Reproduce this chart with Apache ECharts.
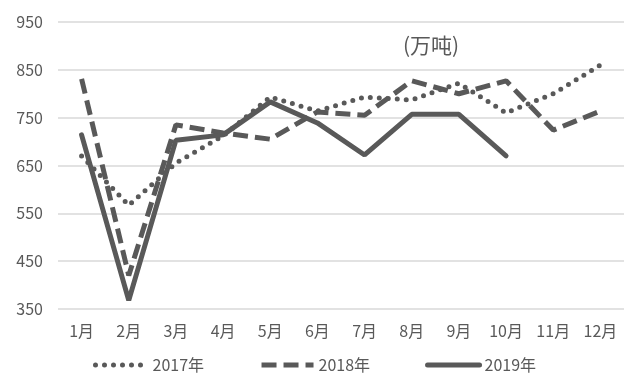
<!DOCTYPE html>
<html><head><meta charset="utf-8">
<script src="https://cdn.jsdelivr.net/npm/echarts@6/dist/echarts.min.js"></script>
<style>html,body{margin:0;padding:0;background:#fff}#c{width:637px;height:386px}</style>
</head><body><div id="c"></div>
<script>
var months = ['1月','2月','3月','4月','5月','6月','7月','8月','9月','10月','11月','12月'];
var s2017 = [670, 567, 655, 712, 793, 764, 793, 787, 822, 760, 800, 860];
var s2018 = [831, 420, 735, 718, 705, 762, 755, 827, 800, 827, 724, 764];
var s2019 = [714, 368, 703, 714, 783, 739, 672, 757, 757, 670];
var yTicks = {min: 350, max: 950, interval: 100};
var unitLabel = '(万吨)';
var font = '"Noto Sans CJK SC", "Liberation Sans", sans-serif';
var col = '#595959';
var chart = echarts.init(document.getElementById('c'));
chart.setOption({
  animation: false,
  backgroundColor: '#fff',
  title: {text: unitLabel, left: 398, top: 30, textStyle: {fontFamily: font, fontSize: 21, fontWeight: 'normal', color: col}},
  grid: {left: 58, right: 13, top: 22, bottom: 77},
  legend: {
    bottom: 8, left: 88, itemWidth: 52, itemHeight: 12, itemGap: 55,
    itemStyle: {opacity: 0},
    lineStyle: {width: 5},
    textStyle: {fontFamily: font, fontSize: 16, color: col},
    data: ['2017年','2018年','2019年']
  },
  xAxis: {
    type: 'category', data: months, boundaryGap: true,
    axisLine: {show: false}, axisTick: {show: false},
    axisLabel: {fontFamily: font, fontSize: 16, color: col, margin: 14}
  },
  yAxis: {
    type: 'value', min: yTicks.min, max: yTicks.max, interval: yTicks.interval,
    axisLine: {show: false}, axisTick: {show: false},
    axisLabel: {fontFamily: font, fontSize: 16, color: col, margin: 15},
    splitLine: {lineStyle: {color: '#d9d9d9', width: 1.5}}
  },
  series: [
    {name: '2017年', type: 'line', data: s2017, symbol: 'none',
     lineStyle: {color: col, width: 5, type: [0, 9], cap: 'round'}, itemStyle: {color: col}},
    {name: '2018年', type: 'line', data: s2018, symbol: 'none',
     lineStyle: {color: col, width: 5, type: [15, 7], cap: 'butt'}, itemStyle: {color: col}},
    {name: '2019年', type: 'line', data: s2019, symbol: 'none',
     lineStyle: {color: col, width: 5, cap: 'round'}, itemStyle: {color: col}}
  ]
});
</script></body></html>
